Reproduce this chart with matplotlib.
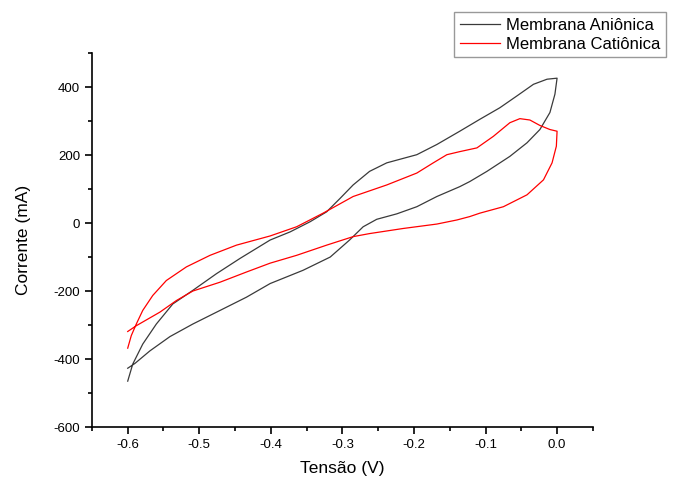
import matplotlib
matplotlib.use('Agg')
import matplotlib.pyplot as plt
from matplotlib.ticker import MultipleLocator

plt.rcParams['font.family'] = ['Liberation Sans', 'DejaVu Sans']
plt.rcParams['axes.unicode_minus'] = False

# Membrana Aniônica: forward branch (lower), then return branch (upper)
anion_x = [-0.600, -0.590, -0.569, -0.541, -0.509, -0.471, -0.434, -0.401, -0.355,
           -0.317, -0.290, -0.271, -0.252, -0.224, -0.196, -0.168, -0.136, -0.122,
           -0.098, -0.066, -0.042, -0.024, -0.010, -0.003, 0.000,
           -0.014, -0.033, -0.056, -0.080, -0.108, -0.136, -0.168, -0.196, -0.238,
           -0.262, -0.285, -0.303, -0.322, -0.345, -0.373, -0.401, -0.443, -0.476,
           -0.509, -0.537, -0.560, -0.579, -0.593, -0.600]
anion_y = [-427, -413, -376, -334, -297, -257, -218, -178, -139,
           -100, -50, -11, 11, 27, 48, 78, 107, 122,
           152, 196, 236, 275, 325, 379, 426,
           423, 408, 374, 339, 305, 270, 231, 201, 177,
           152, 112, 73, 33, 4, -26, -50, -104, -149,
           -198, -238, -297, -356, -415, -465]

# Membrana Catiônica
cation_x = [-0.600, -0.588, -0.574, -0.555, -0.532, -0.509, -0.471, -0.434, -0.401,
            -0.364, -0.322, -0.285, -0.262, -0.215, -0.168, -0.140, -0.122, -0.108,
            -0.075, -0.042, -0.019, -0.007, -0.001, 0.000,
            -0.010, -0.024, -0.038, -0.052, -0.066, -0.089, -0.112, -0.136, -0.154,
            -0.173, -0.196, -0.238, -0.285, -0.327, -0.364, -0.401, -0.448, -0.485,
            -0.518, -0.546, -0.565, -0.579, -0.588, -0.595, -0.600]
cation_y = [-319, -302, -285, -262, -228, -200, -174, -144, -118,
            -95, -65, -40, -31, -16, -3, 9, 19, 29,
            48, 83, 127, 177, 226, 270,
            275, 287, 303, 307, 295, 255, 221, 210, 201,
            177, 147, 112, 78, 29, -11, -38, -65, -95,
            -129, -169, -213, -257, -297, -331, -368]

fig = plt.figure(figsize=(6.76, 4.82), dpi=100)
ax = fig.add_axes([0.136, 0.114, 0.741, 0.776])

ax.plot(anion_x, anion_y, color='#3a3a3a', lw=0.9, label='Membrana Aniônica')
ax.plot(cation_x, cation_y, color='#ff0000', lw=0.9, label='Membrana Catiônica')

ax.set_xlim(-0.65, 0.05)
ax.set_ylim(-600, 500)
ax.xaxis.set_minor_locator(MultipleLocator(0.05))
ax.yaxis.set_minor_locator(MultipleLocator(100))
ax.set_xticks([-0.6, -0.5, -0.4, -0.3, -0.2, -0.1, 0.0])
ax.set_xticklabels(['-0.6', '-0.5', '-0.4', '-0.3', '-0.2', '-0.1', '0.0'])
ax.set_yticks([-600, -400, -200, 0, 200, 400])

for s in ['top', 'right']:
    ax.spines[s].set_visible(False)
for s in ['left', 'bottom']:
    ax.spines[s].set_linewidth(1.2)
ax.tick_params(which='major', direction='out', length=5, width=1.2, labelsize=9.5)
ax.tick_params(which='minor', direction='out', length=3, width=1.2)

ax.set_xlabel('Tensão (V)', fontsize=12.5, labelpad=7)
ax.set_ylabel('Corrente (mA)', fontsize=12.5, labelpad=16)

fig.legend(loc='upper left', bbox_to_anchor=(0.672, 0.975), fontsize=12,
           frameon=True, fancybox=False, edgecolor='#808080', handlelength=2.4,
           labelspacing=0.22, borderpad=0.35, handletextpad=0.35, borderaxespad=0)

fig.savefig('out.png', dpi=100)
